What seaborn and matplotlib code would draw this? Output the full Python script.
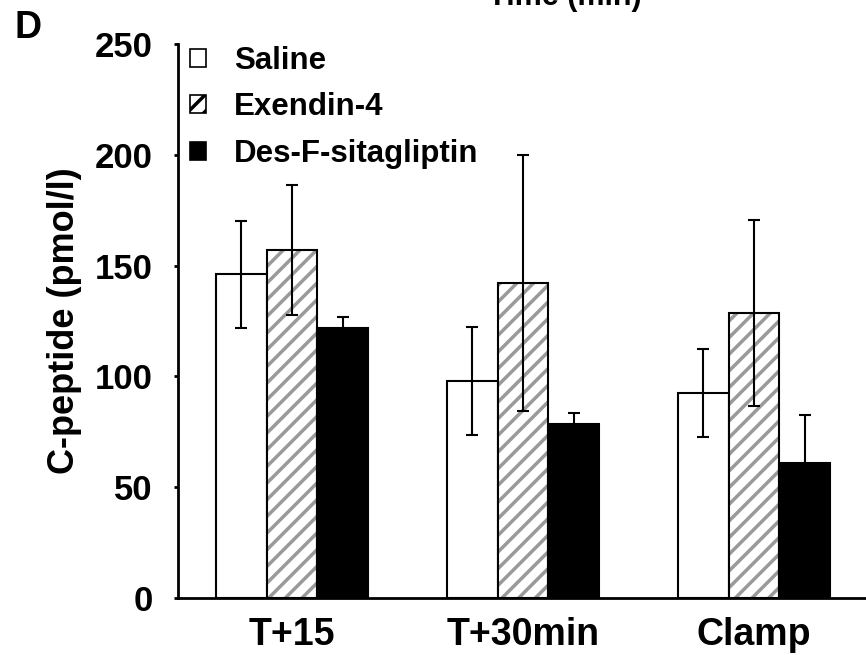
import numpy as np
import pandas as pd
import matplotlib
matplotlib.use("Agg")
import matplotlib.pyplot as plt
import seaborn as sns
from matplotlib.patches import Patch
from matplotlib.colors import to_rgba

# ---- data ----
categories = ["T+15", "T+30min", "Clamp"]
groups = ["Saline", "Exendin-4", "Des-F-sitagliptin"]
saline = [146, 98, 92.5]
saline_err = [24, 24.5, 20]
exendin = [157, 142, 128.6]
exendin_err = [29.5, 57.8, 41.8]
desf = [122, 78.5, 61]
desf_err = [5, 5, 21.7]
y_ticks = [0, 50, 100, 150, 200, 250]

sns.set_theme(style="white")
plt.rcParams['font.family'] = ['Liberation Sans', 'DejaVu Sans']
plt.rcParams['font.weight'] = 'bold'
plt.rcParams['hatch.linewidth'] = 2.5
for k in ['text.color', 'axes.labelcolor', 'xtick.color', 'ytick.color',
          'axes.edgecolor']:
    plt.rcParams[k] = 'black'

df = pd.DataFrame({
    "category": categories * 3,
    "group": [g for g in groups for _ in categories],
    "value": saline + exendin + desf,
})

fig = plt.figure(figsize=(8.66, 6.55), dpi=100)
ax = fig.add_axes([0.2055, 0.087, 0.7945, 0.8458])

sns.barplot(data=df, x="category", y="value", hue="group",
            order=categories, hue_order=groups,
            palette=["white", "white", "black"], saturation=1,
            width=0.66, gap=0, edgecolor="black", linewidth=1.5,
            errorbar=None, legend=False, ax=ax)

# hatch the Exendin-4 bars with gray stripes
for bar in ax.containers[1]:
    bar.set_hatch("//")
    bar._hatch_color = to_rgba("#9a9a9a")

for cont, vals, errs in zip(ax.containers, [saline, exendin, desf],
                            [saline_err, exendin_err, desf_err]):
    xs = [b.get_x() + b.get_width() / 2 for b in cont]
    ax.errorbar(xs, vals, yerr=errs, fmt="none", ecolor="black",
                elinewidth=1.5, capsize=4.5, capthick=1.5, zorder=3)

ax.set_xlim(-0.494, 2.485)
ax.set_ylim(0, 250)
ax.set_yticks(y_ticks)
ax.set_yticklabels([str(t) for t in y_ticks])
ax.set_xlabel("")
ax.set_ylabel("C-peptide (pmol/l)", fontsize=26, fontweight="bold")
ax.yaxis.set_label_coords(-0.1395, 0.5)

for s in ["top", "right"]:
    ax.spines[s].set_visible(False)
for s in ["left", "bottom"]:
    ax.spines[s].set_linewidth(2)
    ax.spines[s].set_color("black")

ax.tick_params(axis="y", direction="out", length=3, width=2, pad=15,
               labelsize=25, left=True, colors="black")
ax.tick_params(axis="x", length=0, pad=14, labelsize=27, colors="black")
for lbl in ax.get_xticklabels() + ax.get_yticklabels():
    lbl.set_fontweight("bold")

handles = [
    Patch(facecolor="white", edgecolor="black", linewidth=1.2),
    Patch(facecolor="white", edgecolor="black", linewidth=1.2, hatch="//"),
    Patch(facecolor="black", edgecolor="black", linewidth=1.2),
]
ax.legend(handles, groups, loc="upper left", bbox_to_anchor=(0.0174, 0.996),
          frameon=False, borderpad=0, borderaxespad=0,
          handlelength=0.5, handleheight=0.5, handletextpad=0.9,
          labelspacing=0.52, prop={"size": 22.5, "weight": "bold"})

fig.text(0.0173, 0.985, "D", fontsize=27, fontweight="bold", va="top", ha="left")
fig.text(0.6524, 0.9924, "Time (min)", fontsize=22, fontweight="bold",
         va="baseline", ha="center")

fig.savefig("out.png", dpi=100)
